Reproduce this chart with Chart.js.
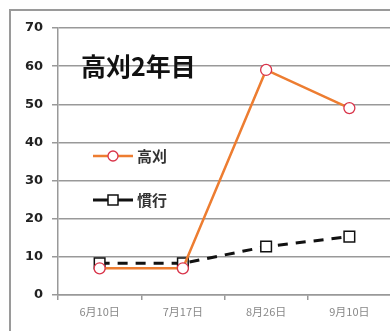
<!DOCTYPE html>
<html>
<head>
<meta charset="utf-8">
<script src="https://cdn.jsdelivr.net/npm/chart.js@4"></script>
<style>
  html, body { margin: 0; padding: 0; background: #fff; overflow: hidden; }
  #wrap { position: relative; width: 390px; height: 331px; overflow: hidden; }
  #frame { position: absolute; left: 9px; top: 9px; width: 400px; height: 340px; border: 2px solid #9a9a9a; box-sizing: border-box; }
  #c { position: absolute; left: 0; top: 0; }
</style>
</head>
<body>
<div id="wrap">
  <div id="frame"></div>
  <canvas id="c" width="400" height="331"></canvas>
</div>
<script>
// dati
const categorie = ['6月10日', '7月17日', '8月26日', '9月10日'];
const takagari = [7, 7, 59, 49];
const kanko = [8.3, 8.3, 12.7, 15.3];
const tickY = [0, 10, 20, 30, 40, 50, 60, 70];
const titolo = '高刈2年目';

// titolo e legenda disegnati dentro l'area del grafico
const overlay = {
    id: 'overlay',
    afterDraw(chart) {
        const ctx = chart.ctx;
        ctx.save();
        ctx.fillStyle = '#111';
        ctx.font = 'bold 25px "Noto Sans CJK JP"';
        ctx.textBaseline = 'middle';
        ctx.textAlign = 'left';
        ctx.fillText(titolo, 81, 66);

        const items = [
            { ds: chart.data.datasets[0], y: 156 },
            { ds: chart.data.datasets[1], y: 200 }
        ];
        items.forEach(it => {
            const ds = it.ds;
            ctx.strokeStyle = ds.borderColor;
            ctx.lineWidth = ds.borderWidth;
            ctx.setLineDash([]);
            ctx.beginPath();
            ctx.moveTo(93, it.y);
            ctx.lineTo(133, it.y);
            ctx.stroke();
            ctx.fillStyle = ds.pointBackgroundColor;
            ctx.strokeStyle = ds.pointBorderColor;
            ctx.lineWidth = ds.pointBorderWidth;
            if (ds.pointStyle === 'rect') {
                ctx.fillRect(108, it.y - 5, 10, 10);
                ctx.strokeRect(108, it.y - 5, 10, 10);
            } else {
                ctx.beginPath();
                ctx.arc(113, it.y, 5, 0, Math.PI * 2);
                ctx.fill();
                ctx.stroke();
            }
            ctx.fillStyle = '#333';
            ctx.font = 'bold 15px "Noto Sans CJK JP"';
            ctx.fillText(ds.label, 137, it.y);
        });
        ctx.restore();
    }
};

const ctx = document.getElementById('c').getContext('2d');
new Chart(ctx, {
    type: 'line',
    data: {
        labels: categorie,
        datasets: [
            {
                label: '高刈',
                data: takagari,
                borderColor: '#ED7D31',
                borderWidth: 2.5,
                pointStyle: 'circle',
                pointRadius: 5.5,
                pointBackgroundColor: '#fff',
                pointBorderColor: '#D9344A',
                pointBorderWidth: 1.3,
                tension: 0
            },
            {
                label: '慣行',
                data: kanko,
                borderColor: '#111',
                borderWidth: 3,
                borderDash: [10, 8],
                pointStyle: 'rect',
                pointRadius: 7.5,
                pointBackgroundColor: '#fff',
                pointBorderColor: '#111',
                pointBorderWidth: 1.5,
                tension: 0
            }
        ]
    },
    options: {
        responsive: false,
        animation: false,
        layout: { padding: { left: 0, top: 28, right: 7, bottom: 0 } },
        plugins: { legend: { display: false }, tooltip: { enabled: false } },
        scales: {
            x: {
                offset: true,
                afterFit: s => { s.height = 36; },
                grid: { display: true, offset: true, drawOnChartArea: false, tickLength: 5, color: '#999', lineWidth: 1.5 },
                border: { color: '#999', width: 1.5 },
                ticks: { color: '#888', font: { size: 11, family: '"Noto Sans CJK JP"' }, padding: 5, maxRotation: 0 }
            },
            y: {
                min: 0,
                max: 70,
                afterFit: s => { s.width = 58; },
                afterBuildTicks: s => { s.ticks = tickY.map(v => ({ value: v })); },
                grid: { color: '#999', lineWidth: 1.5, tickLength: 6 },
                border: { color: '#999', width: 1.5 },
                ticks: { color: '#222', font: { size: 13, weight: 'bold', family: '"DejaVu Sans"' }, padding: 9 }
            }
        }
    },
    plugins: [overlay]
});
</script>
</body>
</html>
